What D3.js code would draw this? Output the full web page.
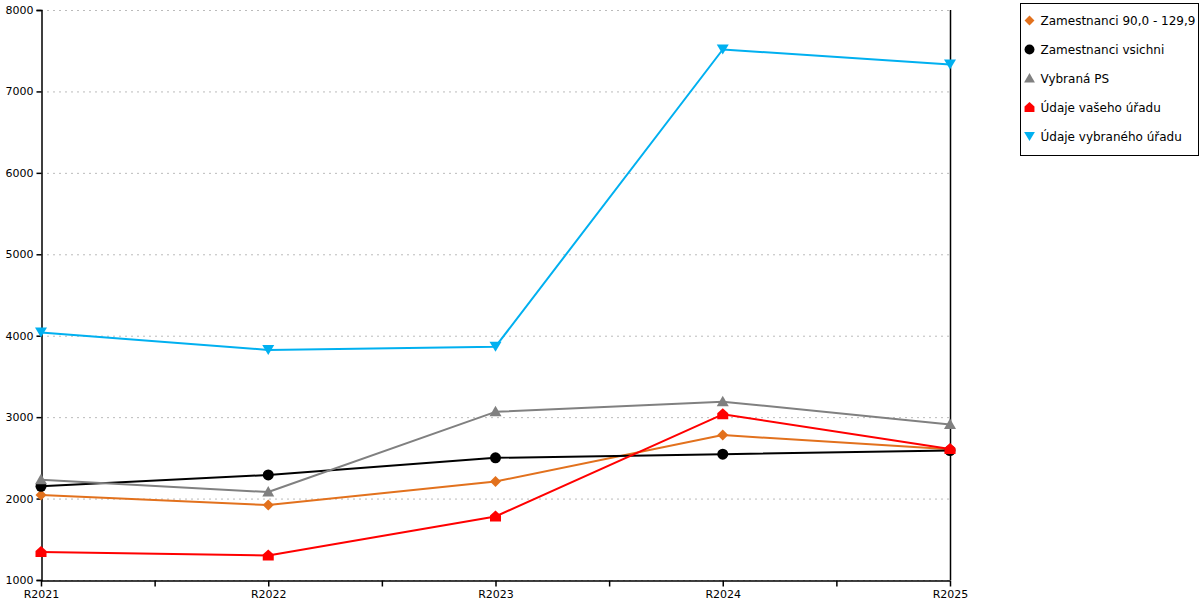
<!DOCTYPE html>
<html>
<head>
<meta charset="utf-8">
<script src="https://cdn.jsdelivr.net/npm/d3@7"></script>
<style>
  body { margin: 0; background: #fff; }
  svg { display: block; font-family: "DejaVu Sans", Verdana, sans-serif; }
</style>
</head>
<body>
<div id="chart"></div>
<script>
const years = ["R2021", "R2022", "R2023", "R2024", "R2025"];
const yTicks = [1000, 2000, 3000, 4000, 5000, 6000, 7000, 8000];

const zam90 = [2045, 1920, 2210, 2780, 2605];
const zamAll = [2150, 2290, 2500, 2545, 2590];
const vybranaPS = [2230, 2080, 3065, 3190, 2910];
const vasUrad = [1345, 1300, 1780, 3035, 2610];
const vybranyUrad = [4040, 3825, 3865, 7515, 7330];

const seriesNames = ["Zamestnanci 90,0 - 129,9", "Zamestnanci vsichni", "Vybraná PS", "Údaje vašeho úřadu", "Údaje vybraného úřadu"];
const seriesColors = ["#E2711D", "#000000", "#808080", "#FF0000", "#00B0F0"];
const seriesShapes = ["diamond", "circle", "triangle", "house", "triangleDown"];
const seriesValues = [zam90, zamAll, vybranaPS, vasUrad, vybranyUrad];

const width = 1200, height = 600;
const margin = { top: 10, right: 250, bottom: 20, left: 41 };

const svg = d3.select("#chart")
    .append("svg")
    .attr("width", width)
    .attr("height", height);

const x = d3.scalePoint()
    .domain(years)
    .range([margin.left, width - margin.right]);

const y = d3.scaleLinear()
    .domain([1000, 8000])
    .range([height - margin.bottom, margin.top]);

// marker shapes
function markerPath(shape) {
    switch (shape) {
        case "diamond": return "M0,-5.5L5.5,0L0,5.5L-5.5,0Z";
        case "circle": return d3.symbol(d3.symbolCircle, 95)();
        case "triangle": return "M0,-6L6,4.5L-6,4.5Z";
        case "triangleDown": return "M0,5L6,-5L-6,-5Z";
        case "house": return "M0,-6L5.5,-1L5.5,5L-5.5,5L-5.5,-1Z";
    }
}

// grid lines
svg.append("g")
    .selectAll("line")
    .data(yTicks)
    .join("line")
    .attr("x1", margin.left)
    .attr("x2", width - margin.right)
    .attr("y1", d => y(d) + 0.5)
    .attr("y2", d => y(d) + 0.5)
    .attr("stroke", "#bbb")
    .attr("stroke-width", 1)
    .attr("stroke-dasharray", "2,4");

// y axis
const yAxis = svg.append("g")
    .attr("transform", `translate(${margin.left + 0.5},0)`)
    .call(d3.axisLeft(y).tickValues(yTicks).tickSize(5).tickPadding(3).tickFormat(d3.format("d")));
yAxis.select(".domain").attr("stroke", "#000").attr("stroke-width", 1.5);
yAxis.selectAll(".tick line").attr("stroke", "#000").attr("stroke-width", 1.5);
yAxis.selectAll("text").attr("font-size", "11px").attr("fill", "#000")
    .attr("font-family", "DejaVu Sans, Verdana, sans-serif");

// right border line
svg.append("line")
    .attr("x1", x("R2025") + 0.5)
    .attr("x2", x("R2025") + 0.5)
    .attr("y1", y(8000))
    .attr("y2", y(1000))
    .attr("stroke", "#000")
    .attr("stroke-width", 1.5);

// x axis
const xAxis = svg.append("g")
    .attr("transform", `translate(0,${y(1000) + 0.5})`)
    .call(d3.axisBottom(x).tickSize(6).tickPadding(4).tickSizeOuter(0));
xAxis.select(".domain").attr("stroke", "#000").attr("stroke-width", 1.5);
xAxis.selectAll(".tick line").attr("stroke", "#000").attr("stroke-width", 1.5);
xAxis.selectAll("text").attr("font-size", "11px").attr("fill", "#000")
    .attr("font-family", "DejaVu Sans, Verdana, sans-serif");

// minor ticks between categories
const mids = d3.pairs(years).map(([a, b]) => (x(a) + x(b)) / 2);
xAxis.append("g")
    .selectAll("line")
    .data(mids)
    .join("line")
    .attr("x1", d => d + 0.5)
    .attr("x2", d => d + 0.5)
    .attr("y1", 0)
    .attr("y2", 6)
    .attr("stroke", "#000")
    .attr("stroke-width", 1.5);

// lines
const line = d3.line()
    .x((d, i) => x(years[i]))
    .y(d => y(d));

seriesValues.forEach((vals, s) => {
    svg.append("path")
        .datum(vals)
        .attr("fill", "none")
        .attr("stroke", seriesColors[s])
        .attr("stroke-width", 2)
        .attr("stroke-linejoin", "round")
        .attr("d", line);
});

// markers
seriesValues.forEach((vals, s) => {
    svg.append("g")
        .selectAll("path")
        .data(vals)
        .join("path")
        .attr("transform", (d, i) => `translate(${x(years[i])},${y(d)})`)
        .attr("d", markerPath(seriesShapes[s]))
        .attr("fill", seriesColors[s]);
});

// Legend
const legend = svg.append("g")
    .attr("transform", "translate(1020.5,3.5)");

legend.append("rect")
    .attr("width", 178)
    .attr("height", 152)
    .attr("fill", "#fff")
    .attr("stroke", "#000")
    .attr("stroke-width", 1);

seriesNames.forEach((name, i) => {
    const row = legend.append("g")
        .attr("transform", `translate(0,${17 + i * 29})`);
    row.append("path")
        .attr("transform", "translate(9,0) scale(0.9)")
        .attr("d", markerPath(seriesShapes[i]))
        .attr("fill", seriesColors[i]);
    row.append("text")
        .attr("x", 20)
        .attr("y", 0)
        .attr("dy", "0.35em")
        .attr("font-size", "12px")
        .attr("fill", "#000")
        .text(name);
});
</script>
</body>
</html>
